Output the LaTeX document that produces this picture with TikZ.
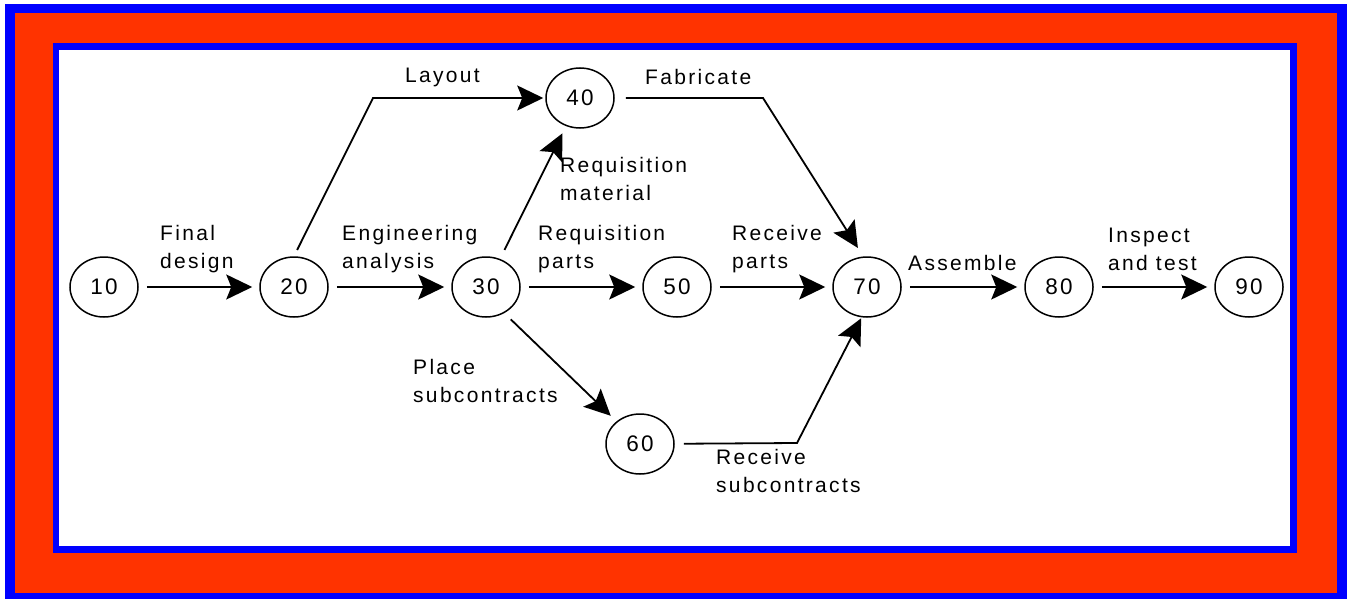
\documentclass[tikz,border=0pt]{standalone}
\usepackage{fontspec}
\setmainfont{Liberation Sans}[LetterSpace=11]
\usetikzlibrary{arrows.meta,shapes.geometric}
\definecolor{frameblue}{RGB}{0,0,255}
\definecolor{framered}{RGB}{255,51,0}
\begin{document}
\begin{tikzpicture}[x=1pt,y=-1pt,
  event/.style={ellipse, draw, line width=1.5pt, minimum width=68pt,
    minimum height=60pt, inner sep=0pt, font=\fontsize{22.5}{24}\selectfont},
  act/.style={line width=1.8pt, -{Stealth[length=26pt,width=25pt,inset=5pt]},
    shorten <=8pt, shorten >=7pt},
  lbl/.style={anchor=base west, align=left, inner sep=0pt,
    font=\fontsize{21}{28}\selectfont}]
\useasboundingbox (0,0) rectangle (1348,599);

% double frame
\fill[frameblue] (5,4) rectangle (1347,599);
\fill[framered] (15,13) rectangle (1337,593);
\fill[frameblue] (53,43) rectangle (1297,553);
\fill[white] (59,50) rectangle (1290,546);

% events
\node[event] (n10) at (104,287) {10};
\node[event] (n20) at (294,287) {20};
\node[event] (n30) at (486,287) {30};
\node[event] (n40) at (580,98) {40};
\node[event] (n50) at (677,287) {50};
\node[event] (n60) at (640,444) {60};
\node[event] (n70) at (867,287) {70};
\node[event] (n80) at (1059,287) {80};
\node[event] (n90) at (1249,287) {90};

% bend points
\coordinate (c1) at (373,98);
\coordinate (c2) at (763,98);
\coordinate (c3) at (797,443);

% activities
\draw[act] (n10) -- (n20);
\draw[act] (n20) -- (n30);
\draw[act] (n30) -- (n50);
\draw[act] (n50) -- (n70);
\draw[act] (n70) -- (n80);
\draw[act] (n80) -- (n90);
\draw[act, shorten <=7pt, shorten >=2pt] (n20.north) -- (c1) -- (n40);
\draw[act, shorten <=10pt, shorten >=8pt] (n30) -- (n40);
\draw[act, shorten <=11pt, shorten >=10pt] (n40) -- (c2) -- (n70.97);
\draw[act, shorten <=9pt, shorten >=8pt] (n30.305) -- (n60);
\draw[act, shorten <=9pt, shorten >=1pt] (n60) -- (c3) -- (n70.260);

% activity labels (multi-line labels are placed by their last line)
\node[lbl] (lFinal) at (160,268) {Final\\design};
\node[lbl] (lEng) at (342,268) {Engineering\\analysis};
\node[lbl] (lLayout) at (405,83) {Layout};
\node[lbl] (lFab) at (645,85) {Fabricate};
\node[lbl] (lReqM) at (560,200) {Requisition\\material};
\node[lbl] (lReqP) at (538,268) {Requisition\\parts};
\node[lbl] (lRecP) at (732,268) {Receive\\parts};
\node[lbl] (lAsm) at (908,270) {Assemble};
\node[lbl] (lIns) at (1108,270) {Inspect\\and test};
\node[lbl] (lPlace) at (413,402) {Place\\subcontracts};
\node[lbl] (lRecS) at (716,492) {Receive\\subcontracts};
\end{tikzpicture}
\end{document}
